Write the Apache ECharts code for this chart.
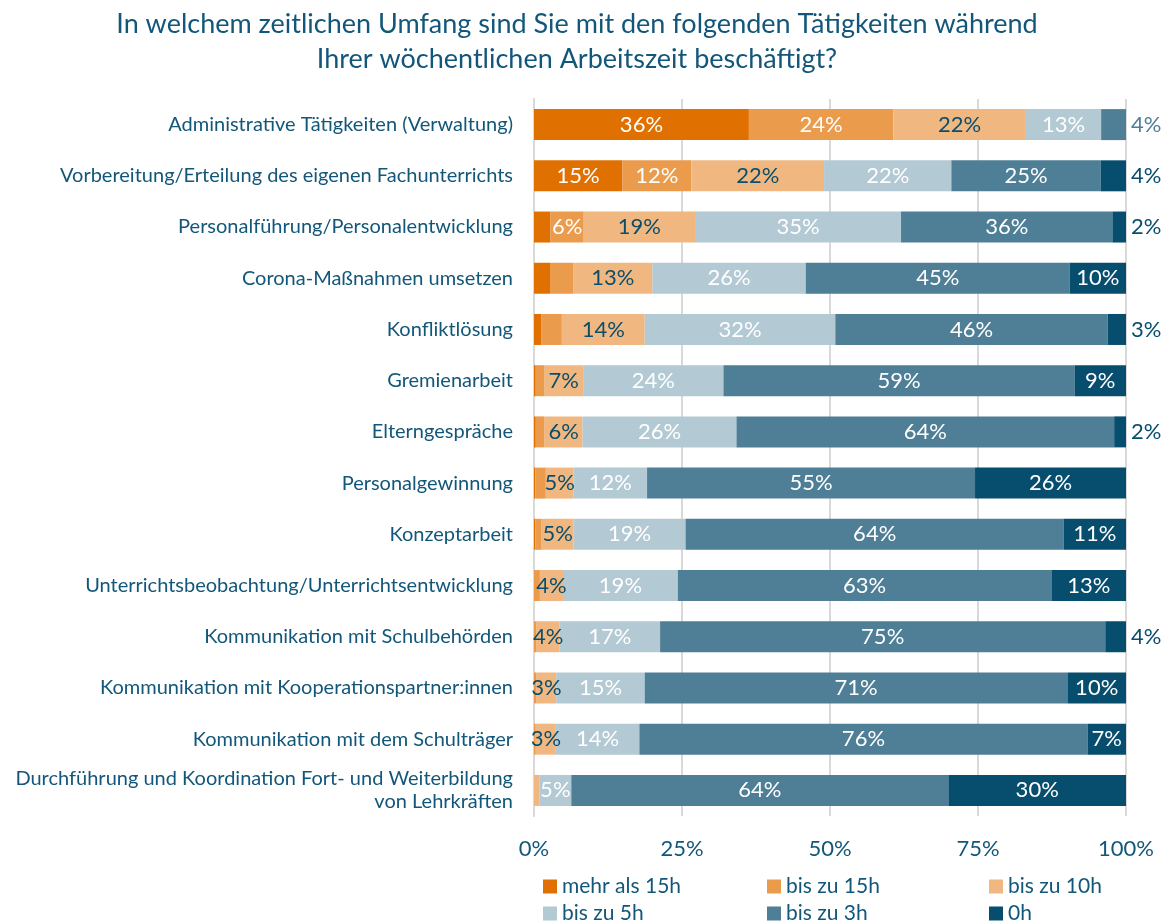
<!DOCTYPE html>
<html>
<head>
<meta charset="utf-8">
<script src="https://cdn.jsdelivr.net/npm/echarts@6/dist/echarts.min.js"></script>
<style>
  html, body { margin: 0; padding: 0; background: #fff; }
  #chart { width: 1169px; height: 924px; }
</style>
</head>
<body>
<div id="chart"></div>
<script>
// categories, top to bottom
var categories = [
    'Administrative Tätigkeiten (Verwaltung)',
    'Vorbereitung/Erteilung des eigenen Fachunterrichts',
    'Personalführung/Personalentwicklung',
    'Corona-Maßnahmen umsetzen',
    'Konfliktlösung',
    'Gremienarbeit',
    'Elterngespräche',
    'Personalgewinnung',
    'Konzeptarbeit',
    'Unterrichtsbeobachtung/Unterrichtsentwicklung',
    'Kommunikation mit Schulbehörden',
    'Kommunikation mit Kooperationspartner:innen',
    'Kommunikation mit dem Schulträger',
    'Durchführung und Koordination Fort- und Weiterbildung\nvon Lehrkräften'
];

var seriesNames = ['mehr als 15h', 'bis zu 15h', 'bis zu 10h', 'bis zu 5h', 'bis zu 3h', '0h'];

// shares in percent
var mehrAls15h = [36.3, 14.9, 2.8, 2.7, 1.2, 0.3, 0.3, 0.2, 0.2, 0, 0, 0, 0, 0];
var bisZu15h   = [24.4, 11.7, 5.6, 3.9, 3.5, 1.4, 1.5, 1.8, 1.1, 1.0, 0.45, 0.45, 0.3, 0];
var bisZu10h   = [22.4, 22.4, 18.8, 13.4, 14.0, 6.6, 6.4, 4.7, 5.4, 3.9, 3.9, 3.3, 3.4, 0.9];
var bisZu5h    = [12.7, 21.5, 34.8, 25.9, 32.2, 23.7, 26.0, 12.4, 18.9, 19.4, 16.95, 14.95, 14.1, 5.4];
var bisZu3h    = [4.2, 25.2, 35.7, 44.6, 46.0, 59.3, 63.8, 55.4, 63.9, 63.1, 75.2, 71.4, 75.7, 63.7];
var null_h     = [0, 4.3, 2.3, 9.5, 3.1, 8.7, 2.0, 25.5, 10.5, 12.6, 3.5, 9.9, 6.5, 30.0];

var xTicks = [0, 25, 50, 75, 100];

var values = [mehrAls15h, bisZu15h, bisZu10h, bisZu5h, bisZu3h, null_h];
var colors = ['#e07000', '#eb9b4c', '#f0b880', '#b3c9d3', '#4e7f96', '#064d6e'];
var labelColors = ['#ffffff', '#ffffff', '#0b4d6b', '#ffffff', '#ffffff', '#ffffff'];
var textColor = '#12577a';
var font = 'Lato';

// last non-empty segment of each bar
var lastIdx = categories.map(function (c, i) {
    var k = -1;
    values.forEach(function (arr, s) { if (arr[i] > 0) k = s; });
    return k;
});

var series = seriesNames.map(function (name, s) {
    return {
        name: name,
        type: 'bar',
        stack: 'total',
        barWidth: 31,
        itemStyle: { color: colors[s] },
        label: {
            show: true,
            position: 'inside',
            color: labelColors[s],
            fontFamily: font,
            fontSize: 22,
            formatter: function (p) {
                var v = p.value;
                var min = s < 2 ? 5 : 2.5;
                if (lastIdx[p.dataIndex] === s && v < 5 && v > 0) return Math.round(v) + '%';
                if (v < min) return '';
                return Math.round(v) + '%';
            }
        },
        data: values[s].map(function (v, i) {
            if (lastIdx[i] === s && v < 5) {
                return { value: v, label: { position: 'right', distance: 5, color: colors[s] } };
            }
            return v;
        })
    };
});

var legends = seriesNames.map(function (name, s) {
    return {
        data: [name],
        left: [538, 762, 984][s % 3],
        top: s < 3 ? 871 : 898,
        icon: 'rect',
        itemWidth: 14,
        itemHeight: 14,
        itemGap: 6,
        textStyle: { color: textColor, fontFamily: font, fontSize: 21 },
        selectedMode: false
    };
});

var chart = echarts.init(document.getElementById('chart'));
chart.setOption({
    animation: false,
    textStyle: { fontFamily: font },
    title: {
        text: 'In welchem zeitlichen Umfang sind Sie mit den folgenden Tätigkeiten während\nIhrer wöchentlichen Arbeitszeit beschäftigt?',
        left: 572,
        top: 2,
        textAlign: 'center',
        textStyle: { color: textColor, fontFamily: font, fontSize: 27, fontWeight: 'normal', lineHeight: 35 }
    },
    legend: legends,
    grid: { left: 534, right: 43, top: 99, bottom: 108, containLabel: false },
    xAxis: {
        type: 'value',
        min: 0,
        max: 100,
        interval: 25,
        axisLabel: {
            color: textColor, fontFamily: font, fontSize: 22, margin: 22,
            formatter: function (v) { return xTicks.indexOf(v) >= 0 ? v + '%' : ''; }
        },
        axisLine: { show: false },
        axisTick: { show: false },
        splitLine: { lineStyle: { color: '#d9d9d9', width: 2 } }
    },
    yAxis: {
        type: 'category',
        inverse: true,
        data: categories,
        axisLine: { show: true, lineStyle: { color: '#d9d9d9', width: 2 } },
        axisTick: { show: false },
        axisLabel: { color: textColor, fontFamily: font, fontSize: 20, margin: 21, align: 'right', lineHeight: 23 }
    },
    series: series
});
</script>
</body>
</html>
